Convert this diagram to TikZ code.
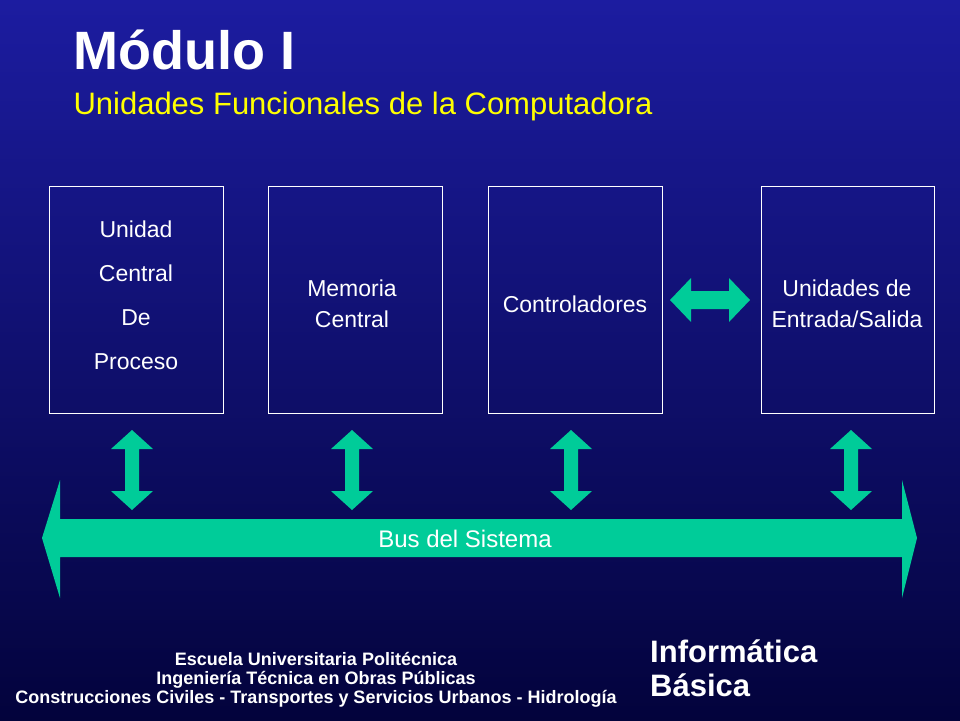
\documentclass[tikz,border=0pt]{standalone}
\usepackage{fontspec}
\setmainfont{Liberation Sans}
\definecolor{bgtop}{RGB}{28,28,160}
\definecolor{bgbot}{RGB}{3,3,60}
\definecolor{grn}{RGB}{0,204,153}
\definecolor{ttl}{RGB}{255,255,0}
\tikzset{
  unitbox/.style={draw=white,line width=0.8pt},
  boxtext/.style={text=white,font=\fontsize{23}{31}\selectfont,align=center},
  arr/.style={fill=grn,draw=none},
}
\begin{document}
\begin{tikzpicture}[x=1pt,y=-1pt]
\shade[top color=bgtop,bottom color=bgbot] (0,0) rectangle (960,720);
\useasboundingbox (0,0) rectangle (960,720);
\node[anchor=west,text=white,font=\bfseries\fontsize{54}{58}\selectfont] (title) at (70,50) {Módulo I};
\node[anchor=west,text=ttl,font=\fontsize{31}{36}\selectfont] (sub) at (70,106) {Unidades Funcionales de la Computadora};
\draw[unitbox] (49,186) rectangle (223,413);
\draw[unitbox] (268,186) rectangle (442,413);
\draw[unitbox] (488,186) rectangle (662,413);
\draw[unitbox] (761,186) rectangle (934,413);
\node[boxtext,font=\fontsize{23}{44}\selectfont] (ucp) at (136,295) {Unidad\\Central\\De\\Proceso};
\node[boxtext] (mem) at (352,304) {Memoria\\Central};
\node[boxtext] (ctl) at (575,304) {Controladores};
\node[boxtext] (es) at (847,304) {Unidades de\\Entrada/Salida};
% horizontal double arrow
\fill[arr] (670,300) -- (691,278) -- (691,291) -- (729,291) -- (729,278) -- (750,300) -- (729,322) -- (729,309) -- (691,309) -- (691,322) -- cycle;
% vertical arrows
\foreach \x in {132,352,571,851}{
  \fill[arr] (\x,430) -- (\x+21,449) -- (\x+7,449) -- (\x+7,491) -- (\x+21,491) -- (\x,510) -- (\x-21,491) -- (\x-7,491) -- (\x-7,449) -- (\x-21,449) -- cycle;
}
% bus
\fill[arr] (42,538) -- (60,480) -- (60,519) -- (902,519) -- (902,480) -- (917,538) -- (902,598) -- (902,557) -- (60,557) -- (60,598) -- cycle;
\node[text=white,font=\fontsize{24}{28}\selectfont] (bus) at (465,539) {Bus del Sistema};
\node[text=white,font=\bfseries\fontsize{18}{19}\selectfont,align=center] (esc) at (316,680) {Escuela Universitaria Politécnica\\Ingeniería Técnica en Obras Públicas\\Construcciones Civiles - Transportes y Servicios Urbanos - Hidrología};
\node[anchor=base west,text=white,font=\bfseries\fontsize{31}{34}\selectfont,align=left,inner sep=0pt] (inf) at (650,696) {Informática\\Básica};
\end{tikzpicture}
\end{document}
